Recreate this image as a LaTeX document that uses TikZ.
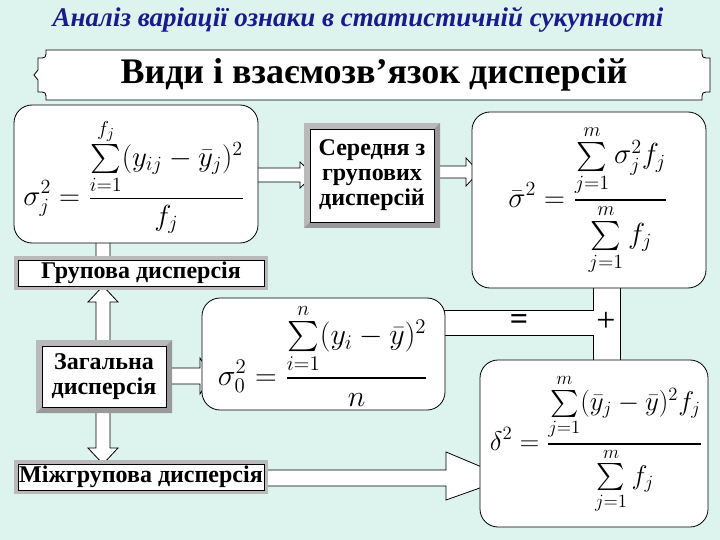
\documentclass[tikz,border=0pt]{standalone}
\usepackage{fontspec}
\setmainfont{Liberation Serif}[Ligatures=ResetAll]
\usepackage{amsmath}
\usepackage{graphicx}
\definecolor{bgc}{HTML}{DDF4EE}
\definecolor{tblue}{HTML}{1A1A8C}
\begin{document}
\begin{tikzpicture}[x=1pt,y=-1pt,
  rbox/.style={draw,fill=white,rounded corners=18pt,line width=0.8pt},
  bev/.style={draw,fill=white,line width=0.6pt,font=\bfseries\fontsize{24}{25}\selectfont,align=center,inner sep=1pt},
  barr/.style={draw,fill=white,line width=0.8pt,line join=miter},
  fm/.style={font=\fontsize{22}{26}\selectfont}]
\fill[bgc] (0,0) rectangle (720,540);
\useasboundingbox (0,0) rectangle (720,540);
\node[tblue,font=\bfseries\itshape\fontsize{27}{30}\selectfont] (title) at (358,20) {Аналіз варіації ознаки в статистичній сукупності};
% banner
\draw[fill=white,line width=0.8pt] (46,50) -- (702,50) .. controls (702,58) .. (710,58) -- (710,92) .. controls (702,92) .. (702,100) -- (46,100) .. controls (46,92) .. (38,92) -- (38,80) -- (34,75) -- (38,70) -- (38,58) .. controls (46,58) .. (46,50) -- cycle;
\node[font=\bfseries\fontsize{36}{38}\selectfont] (banner) at (374,75) {Види і взаємозв'язок дисперсій};
% arrows (behind boxes)
\draw[barr] (240,175) -- (252,162) -- (252,168) -- (300,168) -- (300,162) -- (314,175) -- (300,188) -- (300,182) -- (252,182) -- (252,188) -- cycle;
\draw[barr] (438,166) -- (466,166) -- (466,158) -- (479,172) -- (466,186) -- (466,178) -- (438,178) -- cycle;
\draw[barr] (96,262) -- (96,240) -- (88,240) -- (103,224) -- (118,240) -- (110,240) -- (110,262) -- cycle;
\draw[barr] (96,345) -- (96,302) -- (88,302) -- (103,286) -- (118,302) -- (110,302) -- (110,345) -- cycle;
\draw[barr] (96,408) -- (110,408) -- (110,448) -- (118,448) -- (103,464) -- (88,448) -- (96,448) -- cycle;
\draw[barr] (168,368) -- (200,368) -- (200,358) -- (212,376) -- (200,394) -- (200,384) -- (168,384) -- cycle;
\draw[barr] (266,470) -- (446,470) -- (446,452) -- (508,478) -- (446,500) -- (446,486) -- (266,486) -- cycle;
\draw[barr] (440,310) -- (593,310) -- (593,280) -- (620,280) -- (620,366) -- (593,366) -- (593,335) -- (440,335) -- cycle;
\node[font=\bfseries\fontsize{32}{32}\selectfont] (eq) at (519,322) {=};
\node[font=\fontsize{34}{34}\selectfont] (plus) at (606,322) {+};
% formula boxes
\draw[rbox] (14,105) rectangle (258,243);
\node[fm] (fa) at (134,176) {\scalebox{1.4}{$\displaystyle \sigma_j^2=\frac{\sum\limits_{i=1}^{f_j}(y_{ij}-\bar{y}_j)^2}{f_j}$}};
\draw[rbox] (472,112) rectangle (706,288);
\node[fm] (fc) at (588,200) {\scalebox{1.4}{$\displaystyle \bar{\sigma}^2=\frac{\sum\limits_{j=1}^{m}\sigma_j^2 f_j}{\sum\limits_{j=1}^{m} f_j}$}};
\draw[rbox] (202,298) rectangle (445,410);
\node[fm] (fd) at (323,355) {\scalebox{1.45}{$\displaystyle \sigma_0^2=\frac{\sum\limits_{i=1}^{n}(y_i-\bar{y})^2}{n}$}};
\draw[rbox] (480,360) rectangle (708,527);
\node[fm] (fe) at (596,444) {\scalebox{1.3}{$\displaystyle \delta^2=\frac{\sum\limits_{j=1}^{m}(\bar{y}_j-\bar{y})^2 f_j}{\sum\limits_{j=1}^{m} f_j}$}};
% bevel boxes
\fill[gray!55] (304,123) rectangle (440,228);
\fill[gray!80] (440,123) -- (440,228) -- (304,228) -- (310,222) -- (434,222) -- (434,129) -- cycle;
\node[bev,minimum width=124pt,minimum height=93pt] (mid) at (372,175.5) {Середня з\\групових\\дисперсій};
\fill[gray!55] (36,340) rectangle (172,413);
\fill[gray!80] (172,340) -- (172,413) -- (36,413) -- (42,407) -- (166,407) -- (166,346) -- cycle;
\node[bev,minimum width=124pt,minimum height=61pt] (tot) at (104,376.5) {Загальна\\дисперсія};
\fill[gray!55] (14,256) rectangle (268,290);
\node[bev,minimum width=246pt,minimum height=26pt] (grp) at (141,273) {Групова дисперсія};
\fill[gray!55] (14,460) rectangle (268,494);
\node[bev,minimum width=246pt,minimum height=26pt] (btw) at (141,477) {Міжгрупова дисперсія};
\end{tikzpicture}
\end{document}
